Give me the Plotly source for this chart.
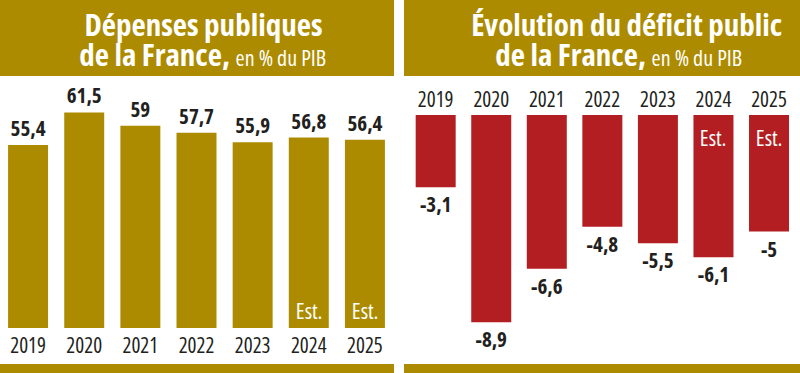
import plotly.graph_objects as go

years = ["2019", "2020", "2021", "2022", "2023", "2024", "2025"]
depenses = [55.4, 61.5, 59, 57.7, 55.9, 56.8, 56.4]
deficit = [-3.1, -8.9, -6.6, -4.8, -5.5, -6.1, -5]
estimated_years = ["2024", "2025"]

title_left_1 = "Dépenses publiques"
title_left_2 = "de la France,"
title_right_1 = "Évolution du déficit public"
title_right_2 = "de la France,"
title_sub = "en % du PIB"
est_label = "Est."

GOLD = "#AD8B00"
RED = "#B31E22"
DARK = "#231F20"
FONT = "Open Sans"

W, H = 800, 373


def fmt(v):
    return f"{v:g}".replace(".", ",")


def px_x(p):
    return p / W


def px_y(p):
    return 1 - p / H


def F(size, color=DARK, bold=False, family=FONT):
    d = dict(family=family, size=size, color=color)
    if bold:
        d["weight"] = "bold"
    return d


fig = go.Figure()

fig.add_trace(go.Bar(
    x=years, y=depenses, xaxis="x", yaxis="y",
    marker=dict(color=GOLD, line=dict(width=0)), width=0.712,
    text=[fmt(v) for v in depenses], textposition="outside",
    textfont=F(21, bold=True),
    constraintext="none", cliponaxis=False, hoverinfo="skip",
))

fig.add_trace(go.Bar(
    x=years, y=deficit, xaxis="x2", yaxis="y2",
    marker=dict(color=RED, line=dict(width=0)), width=0.72,
    text=[fmt(v) for v in deficit], textposition="outside",
    textfont=F(21, bold=True),
    constraintext="none", cliponaxis=False, hoverinfo="skip",
))

left_base, left_ppu = 21.2, 5.35
right_ppu = 23.3

shapes = [
    dict(type="rect", xref="paper", yref="paper", x0=0, x1=px_x(394), y0=px_y(76), y1=1,
         fillcolor=GOLD, line=dict(width=0), layer="below"),
    dict(type="rect", xref="paper", yref="paper", x0=px_x(404), x1=1, y0=px_y(76), y1=1,
         fillcolor=GOLD, line=dict(width=0), layer="below"),
    dict(type="rect", xref="paper", yref="paper", x0=0, x1=px_x(394), y0=0, y1=px_y(364),
         fillcolor=GOLD, line=dict(width=0), layer="below"),
    dict(type="rect", xref="paper", yref="paper", x0=px_x(404), x1=1, y0=0, y1=px_y(364),
         fillcolor=GOLD, line=dict(width=0), layer="below"),
]

annotations = [
    dict(xref="paper", yref="paper", x=px_x(203.5), y=px_y(24), text=f"<b>{title_left_1}</b>",
         showarrow=False, font=F(31, "white"), xanchor="center", yanchor="middle"),
    dict(xref="paper", yref="paper", x=px_x(202), y=px_y(54),
         text=f"<b>{title_left_2}</b> <span style='font-size:22px'>{title_sub}</span>",
         showarrow=False, font=F(31, "white"), xanchor="center", yanchor="middle"),
    dict(xref="paper", yref="paper", x=px_x(626), y=px_y(24), text=f"<b>{title_right_1}</b>",
         showarrow=False, font=F(31, "white"), xanchor="center", yanchor="middle"),
    dict(xref="paper", yref="paper", x=px_x(618), y=px_y(54),
         text=f"<b>{title_right_2}</b> <span style='font-size:22px'>{title_sub}</span>",
         showarrow=False, font=F(31, "white"), xanchor="center", yanchor="middle"),
]

for yr in estimated_years:
    idx = years.index(yr)
    annotations.append(dict(xref="x", yref="y", x=idx, y=left_base, yanchor="bottom", yshift=1,
                            text=est_label, showarrow=False, font=F(22, "white")))
    annotations.append(dict(xref="x2", yref="y2", x=idx, y=0, yanchor="top", yshift=-5,
                            text=est_label, showarrow=False, font=F(22, "white")))

fig.update_layout(
    width=W, height=H, margin=dict(l=0, r=0, t=0, b=0),
    paper_bgcolor="white", plot_bgcolor="rgba(0,0,0,0)",
    showlegend=False,
    xaxis=dict(domain=[0, px_x(393)], type="category", range=[-0.5, 6.5],
               showgrid=False, zeroline=False, showline=False, ticks="",
               tickfont=F(21), ticklabelstandoff=3, anchor="y", fixedrange=True),
    yaxis=dict(domain=[45 / H, 1], range=[left_base, left_base + 328 / left_ppu],
               visible=False, fixedrange=True),
    xaxis2=dict(domain=[px_x(407.9), px_x(796.8)], type="category", range=[-0.5, 6.5],
                side="top", showgrid=False, zeroline=False, showline=False, ticks="",
                tickfont=F(21), ticklabelstandoff=3, anchor="y2", fixedrange=True),
    yaxis2=dict(domain=[0, 1 - 115 / H], range=[-(H - 115) / right_ppu, 0],
                visible=False, fixedrange=True, anchor="x2"),
    shapes=shapes, annotations=annotations,
)

fig.write_html("out.html", config={"displayModeBar": False})
with open("out.html", encoding="utf-8") as f:
    html = f.read()
html = html.replace("<head>", "<head><style>html,body{margin:0;padding:0;overflow:hidden;}"
                    " .main-svg text{font-stretch:75%;}</style>", 1)
with open("out.html", "w", encoding="utf-8") as f:
    f.write(html)
